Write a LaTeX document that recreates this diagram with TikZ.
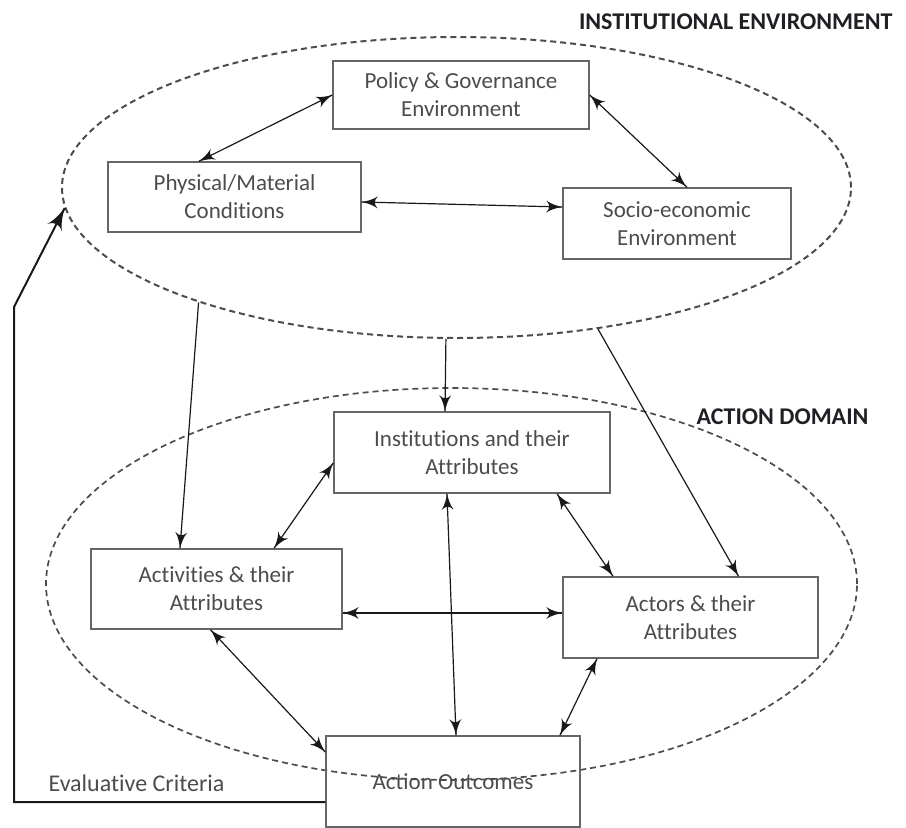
\documentclass[tikz,border=0pt]{standalone}
\usepackage{fontspec}
\setmainfont[Ligatures=NoCommon]{Carlito}
\usetikzlibrary{arrows}
\usetikzlibrary{decorations.markings}
\usetikzlibrary{shapes.geometric}
\tikzset{->/.style = {decoration={markings,
                                  mark=at position 1 with {\arrow[scale=2.5]{latex'}}},
                      postaction={decorate}}}
\tikzset{<->/.style = {decoration={markings,
                                   mark=at position 0 with {\arrowreversed[scale=2.5]{latex'}},
                                   mark=at position 1 with {\arrow[scale=2.5]{latex'}}},
                       postaction={decorate}}}
\tikzset{box/.style = {draw=mframe, line width=1.5pt, inner sep=0, align=center, text=mtext,
                       font=\fontsize{23}{28}\selectfont}}
\tikzset{ring/.style = {draw=mdash, ellipse, inner sep=0, dash pattern=on 6pt off 4pt}}
\tikzset{head/.style = {inner sep=0, text=mhead, font=\fontsize{24}{28}\selectfont\bfseries}}
\tikzset{crit/.style = {inner sep=0, text=mtext, font=\fontsize{24}{28}\selectfont}}
\definecolor{mframe}{rgb}{0.4, 0.4, 0.4}
\definecolor{mtext}{rgb}{0.3, 0.3, 0.3}
\definecolor{mdash}{rgb}{0.3, 0.3, 0.3}
\definecolor{mhead}{rgb}{0.12, 0.12, 0.14}
\definecolor{mline}{rgb}{0.1, 0.1, 0.1}

\begin{document}
\begin{tikzpicture}[x=1pt, y=-1pt, line width=1.2pt, draw=mline]
    \useasboundingbox (0,0) rectangle (906,828);

    \node [ring, line width=2pt, minimum width=789pt, minimum height=301pt] (env) at (456.5,187.5) {};
    \node [ring, line width=1.7pt, minimum width=811pt, minimum height=392pt] (dom) at (451.5,584) {};

    \node [head, anchor=east] (envlbl) at (893,22) {INSTITUTIONAL ENVIRONMENT};
    \node [head, anchor=west] (domlbl) at (696,417) {ACTION DOMAIN};

    \node [box, minimum width=256pt, minimum height=68pt] (pol) at (461,95) {Policy \& Governance\\Environment};
    \node [box, minimum width=253pt, minimum height=70pt] (phy) at (234.5,197) {Physical/Material\\Conditions};
    \node [box, minimum width=228pt, minimum height=71pt] (soc) at (677,223.5) {Socio-economic\\Environment};

    \node [box, minimum width=276pt, minimum height=81pt] (ins) at (472,452.5) {Institutions and their\\Attributes};
    \node [box, minimum width=251pt, minimum height=80pt] (act) at (216.5,589) {Activities \& their\\Attributes};
    \node [box, minimum width=255pt, minimum height=81pt] (acr) at (690.5,617.5) {Actors \& their\\Attributes};
    \node [box, minimum width=254pt, minimum height=91pt] (out) at (453,781.5) {Action Outcomes};

    \node [crit, anchor=west] (crit) at (48,783) {Evaluative Criteria};

    \draw [<->] (pol.west) -- ([xshift=-35.5pt]phy.north);
    \draw [<->] (pol.east) -- ([xshift=10pt]soc.north);
    \draw [<->] ([yshift=-5pt]phy.east) -- ([yshift=16.5pt]soc.west);

    \draw [->] (env.204) -- ([xshift=-36.5pt]act.north);
    \draw [->] (env.266) -- ([xshift=-27pt]ins.north);
    \draw [->] (env.315) -- ([xshift=48pt]acr.north);

    \draw [<->] ([yshift=-10.5pt]ins.west) -- ([xshift=57.5pt]act.north);
    \draw [<->] ([xshift=85pt]ins.south) -- ([xshift=-77.5pt]acr.north);
    \draw [<->] ([xshift=-25pt]ins.south) -- ([xshift=3pt]out.north);
    \draw [<->] ([yshift=-24pt]act.east) -- ([yshift=4.5pt]acr.west);
    \draw [<->] ([xshift=-6pt]act.south) -- ([yshift=29.5pt]out.west);
    \draw [<->] ([xshift=-93.5pt]acr.south) -- ([xshift=107pt]out.north);

    \coordinate (crn1) at (14,802);
    \coordinate (crn2) at (14,307);
    \draw [->, line width=2pt] (out.west |- crn1) -- (crn1) -- (crn2) -- (env.183);
\end{tikzpicture}
\end{document}
